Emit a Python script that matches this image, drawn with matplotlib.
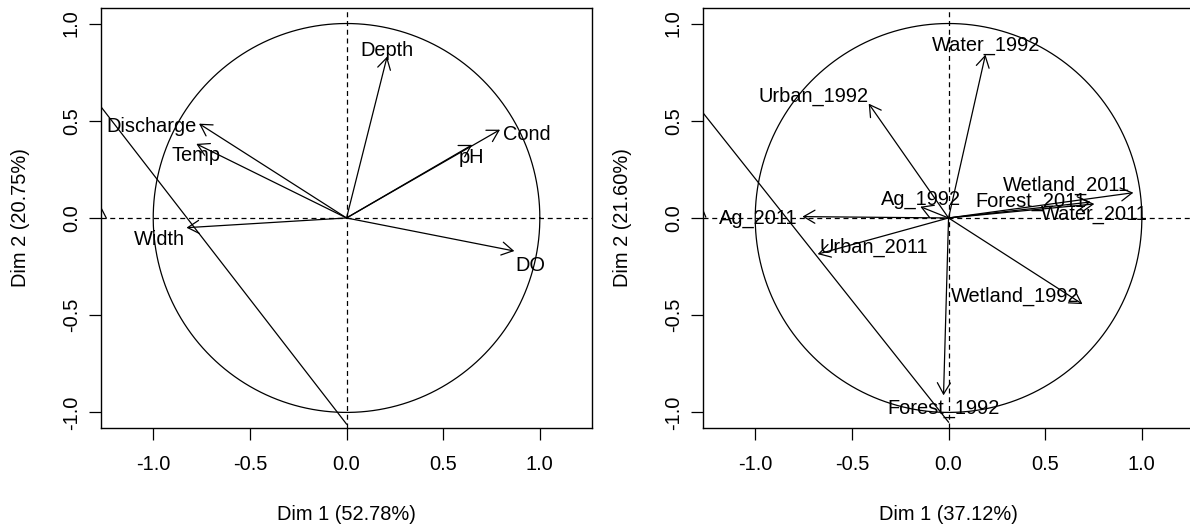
#!/usr/bin/env python3
"""
Variable factor maps (correlation circles) for the two PCAs:
stream habitat variables and land-cover classes (1992 vs 2011).
"""

import numpy as np
import matplotlib
matplotlib.use("Agg")
import matplotlib.pyplot as plt
from matplotlib.patches import FancyArrowPatch, ArrowStyle

plt.rcParams["font.family"] = ["Liberation Sans", "DejaVu Sans"]

# ── Loadings ────────────────────────────────────────────────────────────────

HAB_VARS = ["Depth", "Discharge", "Temp", "Width", "pH", "Cond", "DO"]
HAB_DIM1 = [0.21, -0.763, -0.777, -0.828, 0.65, 0.794, 0.868]
HAB_DIM2 = [0.83, 0.485, 0.381, -0.05, 0.376, 0.454, -0.170]
HAB_EIG = [52.78, 20.75]

LC_VARS = ["Water_1992", "Urban_1992", "Ag_1992", "Ag_2011", "Urban_2011",
           "Wetland_1992", "Forest_1992", "Wetland_2011", "Forest_2011",
           "Water_2011"]
LC_DIM1 = [0.191, -0.413, -0.146, -0.756, -0.677, 0.693, -0.026, 0.956,
           0.754, 0.735]
LC_DIM2 = [0.84, 0.588, 0.058, 0.007, -0.186, -0.443, -0.912, 0.130,
           0.072, 0.082]
LC_EIG = [37.12, 21.60]

# stray line segments left on each panel: ((x0, y0), (x1, y1))
HAB_SEGMENTS = [((-1.30, 0.61), (0.0, -1.06)), ((-1.27, 0.052), (-1.243, 0.0))]
LC_SEGMENTS = [((-1.30, 0.578), (0.0, -1.05)), ((-1.271, 0.041), (-1.256, 0.005))]

# label anchors (baseline, centred)
HAB_LABEL_XY = [(0.209, 0.835), (-1.01, 0.443), (-0.78, 0.294), (-0.966, -0.139),
                (0.645, 0.284), (0.933, 0.402), (0.953, -0.273)]
LC_LABEL_XY = [(0.196, 0.861), (-0.70, 0.598), (-0.141, 0.067), (-0.984, -0.031),
               (-0.388, -0.180), (0.345, -0.433), (-0.027, -1.005),
               (0.608, 0.139), (0.423, 0.057), (0.753, -0.010)]

TICKS = [-1.0, -0.5, 0.0, 0.5, 1.0]
XLIM = (-1.27, 1.27)
YLIM = (-1.08, 1.08)
FS = 14.4
LW = 0.9


def draw_circle(ax, names, d1, d2, label_xy, segments, eig):
    t = np.linspace(0, 2 * np.pi, 400)
    ax.plot(np.cos(t), np.sin(t), color="black", lw=LW)
    ax.axhline(0, color="black", lw=LW, ls=(0, (4, 3)))
    ax.axvline(0, color="black", lw=LW, ls=(0, (4, 3)))

    for (x0, y0), (x1, y1) in segments:
        ax.plot([x0, x1], [y0, y1], color="black", lw=LW)

    head = ArrowStyle("->", head_length=8.1, head_width=4.7)
    for name, x, y, (lx, ly) in zip(names, d1, d2, label_xy):
        ax.add_patch(FancyArrowPatch((0, 0), (x, y), arrowstyle=head,
                                     mutation_scale=1, shrinkA=0, shrinkB=0,
                                     color="black", lw=LW))
        ax.text(lx, ly, name, ha="center", va="baseline", fontsize=FS)

    ax.set_xlim(*XLIM)
    ax.set_ylim(*YLIM)
    ax.set_xticks(TICKS)
    ax.set_yticks(TICKS)
    ax.set_xticklabels([f"{v:.1f}" for v in TICKS])
    ax.set_yticklabels([f"{v:.1f}" for v in TICKS], rotation=90, va="center")
    ax.tick_params(direction="out", length=8.6, width=LW, labelsize=FS)
    ax.tick_params(axis="x", pad=11)
    ax.tick_params(axis="y", pad=6)
    for s in ax.spines.values():
        s.set_linewidth(1.0)

    ax.set_xlabel(f"Dim 1 ({eig[0]:.2f}%)", fontsize=FS, va="center")
    ax.set_ylabel(f"Dim 2 ({eig[1]:.2f}%)", fontsize=FS, va="center")
    ax.xaxis.set_label_coords(0.5, -0.205)
    ax.yaxis.set_label_coords(-0.165, 0.5)


def main():
    fig = plt.figure(figsize=(11.9, 5.27), dpi=100)
    ax1 = fig.add_axes([0.0849, 0.1879, 0.4126, 0.797])
    ax2 = fig.add_axes([0.5908, 0.1879, 0.4126, 0.797])

    draw_circle(ax1, HAB_VARS, HAB_DIM1, HAB_DIM2, HAB_LABEL_XY, HAB_SEGMENTS, HAB_EIG)
    draw_circle(ax2, LC_VARS, LC_DIM1, LC_DIM2, LC_LABEL_XY, LC_SEGMENTS, LC_EIG)

    fig.savefig("out.png", dpi=100)
    plt.close(fig)


if __name__ == "__main__":
    main()
